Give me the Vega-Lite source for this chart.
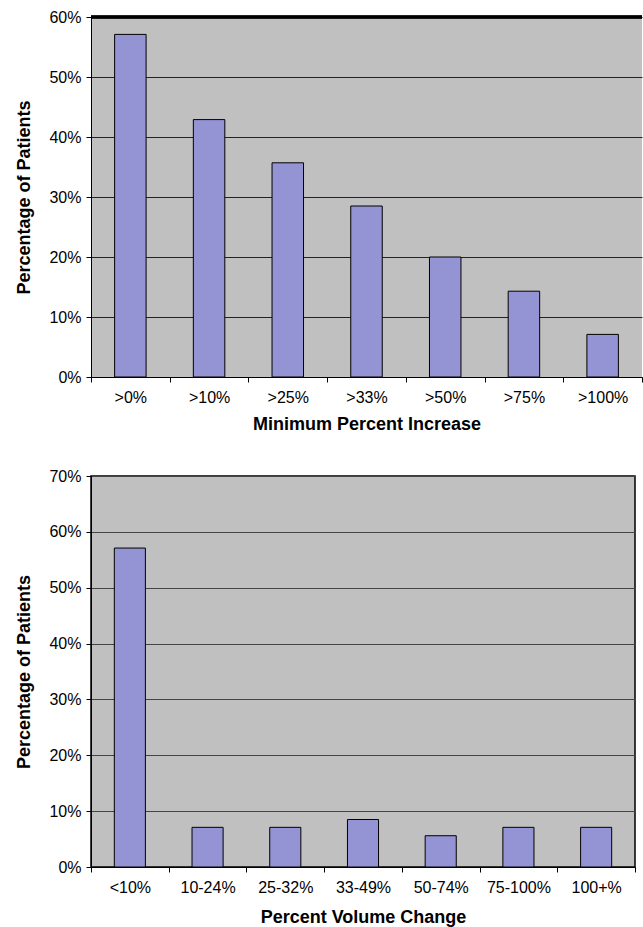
{
  "$schema": "https://vega.github.io/schema/vega-lite/v6.json",
  "padding": {"left": 15, "top": 9, "right": 0, "bottom": 0},
  "spacing": 34,
  "config": {
    "font": "Liberation Sans",
    "axis": {
      "labelFont": "Liberation Sans",
      "labelFontSize": 16,
      "labelColor": "black",
      "titleFont": "Liberation Sans",
      "titleFontSize": 18,
      "titleFontWeight": "bold",
      "titleColor": "black",
      "domainColor": "black",
      "domainWidth": 1,
      "tickColor": "black",
      "tickSize": 5
    }
  },
  "datasets": {
    "increase": [
      {"category": ">0%", "pct": 57.1},
      {"category": ">10%", "pct": 42.9},
      {"category": ">25%", "pct": 35.7},
      {"category": ">33%", "pct": 28.5},
      {"category": ">50%", "pct": 20.0},
      {"category": ">75%", "pct": 14.3},
      {"category": ">100%", "pct": 7.1}
    ],
    "volume": [
      {"category": "<10%", "pct": 57.1},
      {"category": "10-24%", "pct": 7.1},
      {"category": "25-32%", "pct": 7.1},
      {"category": "33-49%", "pct": 8.5},
      {"category": "50-74%", "pct": 5.6},
      {"category": "75-100%", "pct": 7.1},
      {"category": "100+%", "pct": 7.1}
    ]
  },
  "vconcat": [
    {
      "width": 551,
      "height": 360,
      "view": {"fill": "#C0C0C0", "stroke": null},
      "data": {"name": "increase"},
      "layer": [
        {
          "mark": {"type": "bar", "width": {"band": 0.4}, "fill": "#9494D4", "stroke": "black", "strokeWidth": 1},
          "encoding": {
            "x": {
              "field": "category", "type": "nominal", "sort": null,
              "scale": {"paddingInner": 0, "paddingOuter": 0},
              "axis": {"title": "Minimum Percent Increase", "labelAngle": 0, "tickBand": "extent", "labelPadding": 7, "titlePadding": 10, "grid": false}
            },
            "y": {
              "field": "pct", "type": "quantitative",
              "scale": {"domain": [0, 60]},
              "axis": {"title": "Percentage of Patients", "values": [0, 10, 20, 30, 40, 50, 60], "labelExpr": "datum.value + '%'", "grid": true, "gridColor": "#222222", "gridWidth": 1, "gridOpacity": 1, "labelPadding": 5, "titlePadding": 15}
            }
          }
        },
        {
          "mark": {"type": "rule", "color": "black", "strokeWidth": 2.5},
          "encoding": {"y": {"datum": 60}}
        }
      ]
    },
    {
      "width": 544,
      "height": 391,
      "view": {"fill": "#C0C0C0", "stroke": "black", "strokeWidth": 1.5},
      "data": {"name": "volume"},
      "mark": {"type": "bar", "width": {"band": 0.4}, "fill": "#9494D4", "stroke": "black", "strokeWidth": 1},
      "encoding": {
        "x": {
          "field": "category", "type": "nominal", "sort": null,
          "scale": {"paddingInner": 0, "paddingOuter": 0},
          "axis": {"title": "Percent Volume Change", "labelAngle": 0, "tickBand": "extent", "labelPadding": 7, "titlePadding": 13, "grid": false}
        },
        "y": {
          "field": "pct", "type": "quantitative",
          "scale": {"domain": [0, 70]},
          "axis": {"title": "Percentage of Patients", "values": [0, 10, 20, 30, 40, 50, 60, 70], "labelExpr": "datum.value + '%'", "grid": true, "gridColor": "#444444", "gridWidth": 1, "gridOpacity": 1, "labelPadding": 5, "titlePadding": 15}
        }
      }
    }
  ]
}
